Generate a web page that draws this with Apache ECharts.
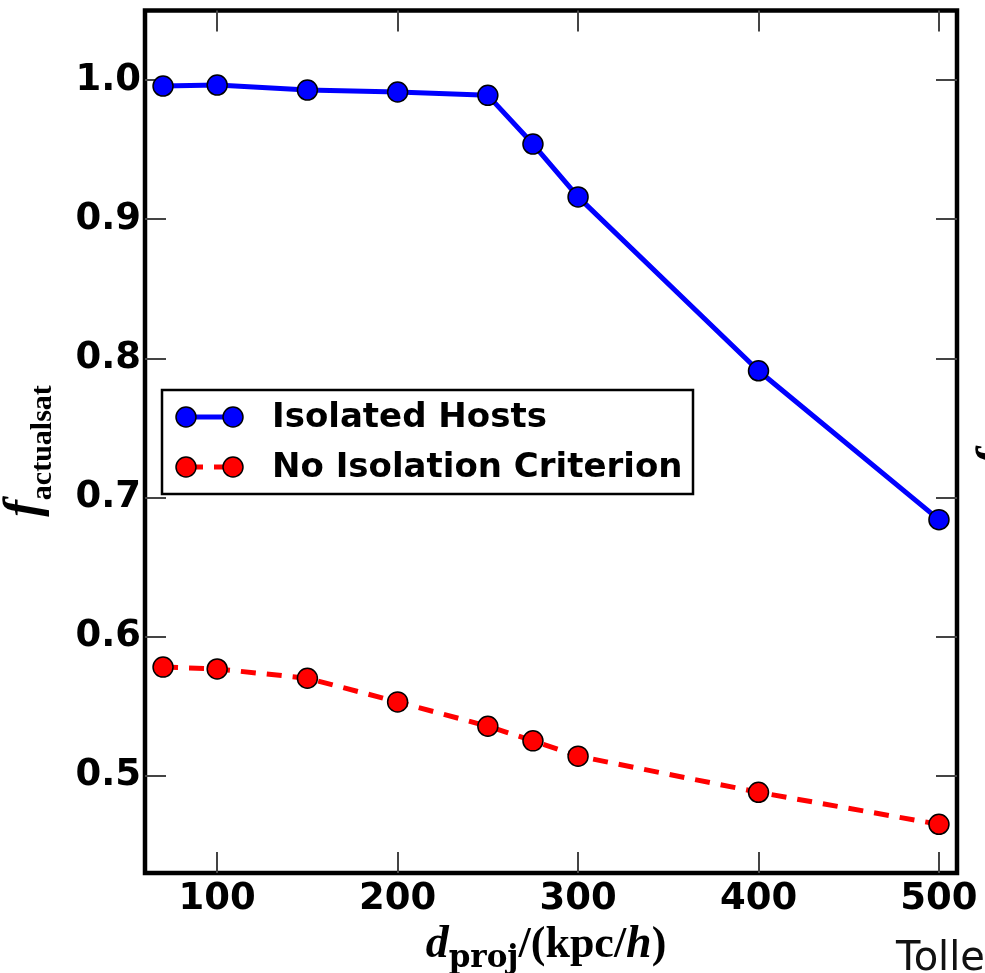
<!DOCTYPE html>
<html>
<head>
<meta charset="utf-8">
<script src="https://cdn.jsdelivr.net/npm/echarts@6/dist/echarts.min.js"></script>
<style>
html,body{margin:0;padding:0;background:#fff;}
#main{width:985px;height:973px;}
</style>
</head>
<body>
<div id="main"></div>
<script>
// ---- data ----
const xValues = [70, 100, 150, 200, 250, 275, 300, 400, 500];
const isolatedHosts = [0.9957, 0.9964, 0.9928, 0.9914, 0.989, 0.954, 0.916, 0.791, 0.684];
const noIsolation = [0.578, 0.5767, 0.570, 0.553, 0.5355, 0.525, 0.514, 0.488, 0.465];
const xTicks = [100, 200, 300, 400, 500];
const yTicks = [0.5, 0.6, 0.7, 0.8, 0.9, 1.0];
const seriesNames = ['Isolated Hosts', 'No Isolation Criterion'];

const chart = echarts.init(document.getElementById('main'), null, {renderer: 'canvas'});

const tickStyle = {inside: true, length: 21, lineStyle: {color: '#444', width: 2}};
const labelFont = {fontFamily: 'DejaVu Sans', fontWeight: 'bold', fontSize: 37, color: '#000'};

function axisX(pos, showLabel) {
  return {
    type: 'value', position: pos, min: 60, max: 510,
    axisLine: {show: false},
    splitLine: {show: false},
    axisTick: Object.assign({customValues: xTicks}, tickStyle),
    axisLabel: Object.assign({show: showLabel, customValues: xTicks, margin: 8}, labelFont)
  };
}
function axisY(pos, showLabel) {
  return {
    type: 'value', position: pos, min: 0.43, max: 1.05,
    axisLine: {show: false},
    splitLine: {show: false},
    axisTick: Object.assign({customValues: yTicks}, tickStyle),
    axisLabel: Object.assign({show: showLabel, customValues: yTicks, margin: 4,
      formatter: v => v.toFixed(1)}, labelFont)
  };
}

const serifB = 'Liberation Serif';
const markerStyle = (c) => ({fill: c, stroke: '#000', lineWidth: 1.5});
const option = {
  animation: false,
  backgroundColor: '#fff',
  grid: {left: 145, top: 10.5, right: 28, bottom: 100, show: true,
         borderColor: '#000', borderWidth: 4.5, backgroundColor: 'transparent'},
  xAxis: [axisX('bottom', true), axisX('top', false)],
  yAxis: [axisY('left', true), axisY('right', false)],
  series: [
    {
      name: seriesNames[0], type: 'line',
      data: xValues.map((x, i) => [x, isolatedHosts[i]]),
      symbol: 'circle', symbolSize: 20,
      lineStyle: {color: '#0000ff', width: 5},
      itemStyle: {color: '#0000ff', borderColor: '#000', borderWidth: 1.5},
      z: 3
    },
    {
      name: seriesNames[1], type: 'line',
      data: xValues.map((x, i) => [x, noIsolation[i]]),
      symbol: 'circle', symbolSize: 20,
      lineStyle: {color: '#ff0000', width: 5, type: [15, 11]},
      itemStyle: {color: '#ff0000', borderColor: '#000', borderWidth: 1.5},
      z: 3
    }
  ],
  graphic: [
    // legend
    {type: 'rect', shape: {x: 162, y: 390, width: 531, height: 104},
     style: {fill: '#fff', stroke: '#000', lineWidth: 2.5}, z: 10},
    {type: 'line', shape: {x1: 186, y1: 417, x2: 233, y2: 417},
     style: {stroke: '#0000ff', lineWidth: 5}, z: 11},
    {type: 'circle', shape: {cx: 186, cy: 417, r: 10}, style: markerStyle('#0000ff'), z: 12},
    {type: 'circle', shape: {cx: 233, cy: 417, r: 10}, style: markerStyle('#0000ff'), z: 12},
    {type: 'line', shape: {x1: 186, y1: 467, x2: 233, y2: 467},
     style: {stroke: '#ff0000', lineWidth: 5, lineDash: [15, 11], lineDashOffset: -2}, z: 11},
    {type: 'circle', shape: {cx: 186, cy: 467, r: 10}, style: markerStyle('#ff0000'), z: 12},
    {type: 'circle', shape: {cx: 233, cy: 467, r: 10}, style: markerStyle('#ff0000'), z: 12},
    {type: 'text', x: 272, y: 418, z: 12,
     style: {text: seriesNames[0], font: 'bold 34px "DejaVu Sans"', fill: '#000', verticalAlign: 'middle'}},
    {type: 'text', x: 272, y: 468, z: 12,
     style: {text: seriesNames[1], font: 'bold 34px "DejaVu Sans"', fill: '#000', verticalAlign: 'middle'}},
    // x axis title
    {type: 'text', x: 546, y: 974, z: 12,
     style: {
       text: '{d|d}{s|proj}{m|/(kpc/}{h|h}{m|)}',
       align: 'center', verticalAlign: 'bottom',
       rich: {
         d: {fontFamily: serifB, fontStyle: 'italic', fontWeight: 'bold', fontSize: 46, verticalAlign: 'bottom', padding: [0, 0, 6, 0], lineHeight: 46},
         m: {fontFamily: serifB, fontWeight: 'bold', fontSize: 44, verticalAlign: 'bottom', padding: [0, 0, 6, 0], lineHeight: 46},
         h: {fontFamily: serifB, fontStyle: 'italic', fontWeight: 'bold', fontSize: 46, verticalAlign: 'bottom', padding: [0, 0, 6, 0], lineHeight: 46},
         s: {fontFamily: 'DejaVu Serif', fontWeight: 'bold', fontSize: 31, verticalAlign: 'bottom', lineHeight: 32}
       }
     }},
    // y axis title
    {type: 'text', x: 33, y: 451, rotation: Math.PI / 2, z: 12,
     style: {
       text: '{f|f}{s|actualsat}',
       align: 'center', verticalAlign: 'middle',
       rich: {
         f: {fontFamily: serifB, fontStyle: 'italic', fontWeight: 'bold', fontSize: 50, verticalAlign: 'bottom', padding: [0, 0, 8, 0], lineHeight: 50},
         s: {fontFamily: serifB, fontWeight: 'bold', fontSize: 30, verticalAlign: 'bottom', lineHeight: 32}
       }
     }},
    // fragments of the neighbouring panel
    {type: 'text', x: 896, y: 960, z: 12,
     style: {text: 'Tolle', font: '40px "DejaVu Sans"', fill: '#111', verticalAlign: 'middle'}},
    {type: 'text', x: 998, y: 458, rotation: Math.PI / 2, z: 12,
     style: {text: 'f', font: 'italic bold 50px "Liberation Serif"', fill: '#000', align: 'center', verticalAlign: 'middle'}}
  ]
};
chart.setOption(option);
</script>
</body>
</html>
